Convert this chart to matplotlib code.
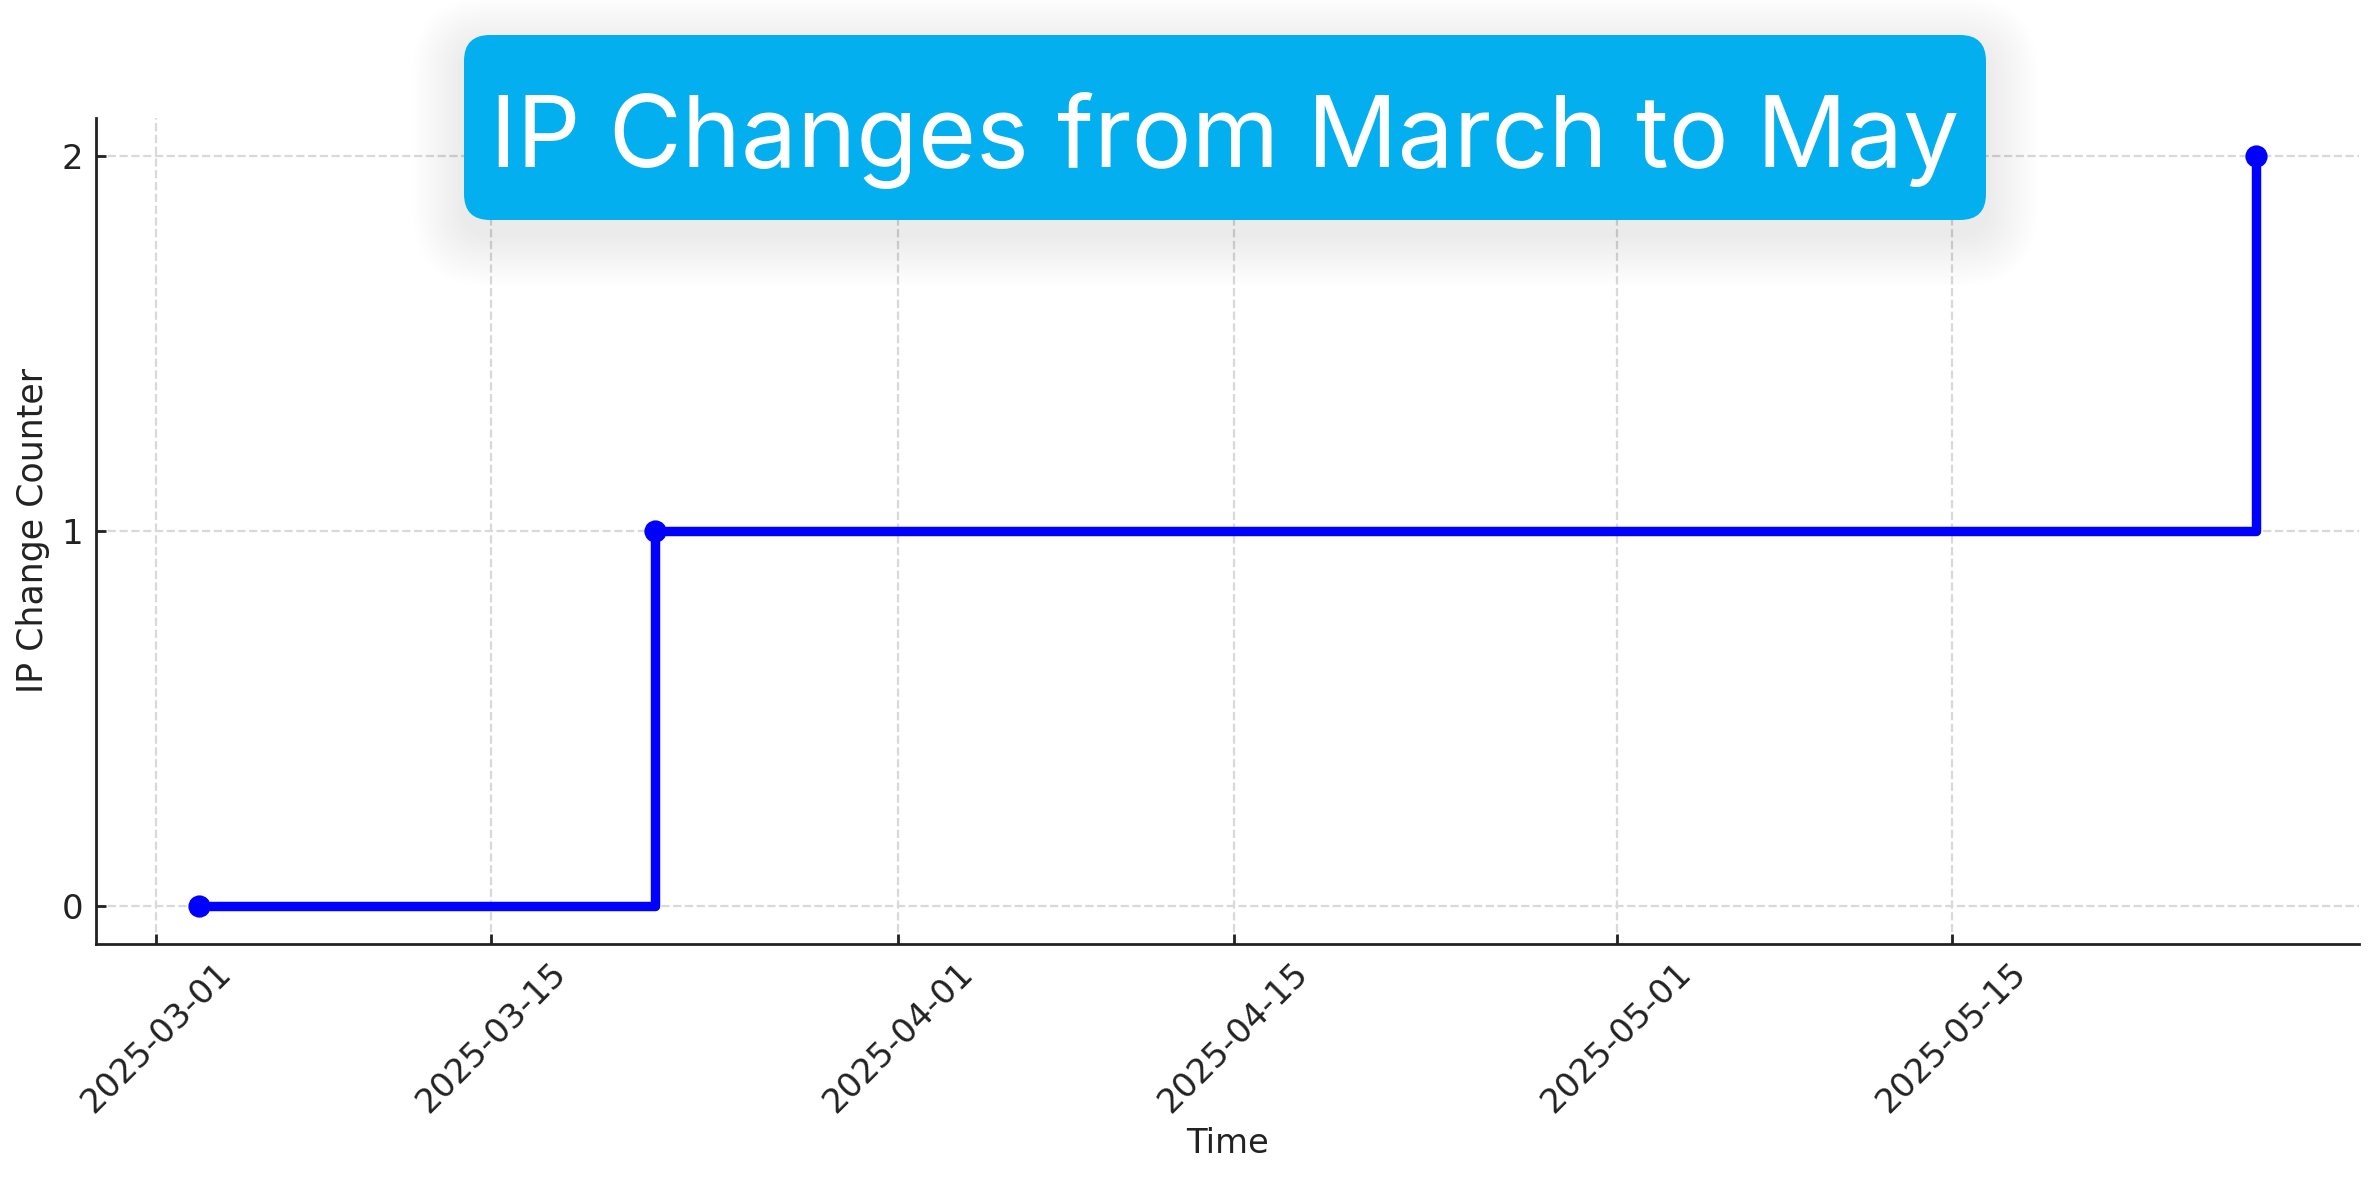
import matplotlib
matplotlib.use("Agg")
import matplotlib.pyplot as plt
import matplotlib.dates as mdates
from matplotlib.patches import FancyBboxPatch
import pandas as pd

# data
change_times = ["2025-03-02 18:30", "2025-03-21 20:00", "2025-05-27 17:00"]
change_counter = [0, 1, 2]
tick_dates = ["2025-03-01", "2025-03-15", "2025-04-01", "2025-04-15",
              "2025-05-01", "2025-05-15"]
title = "IP Changes from March to May"

times = pd.to_datetime(change_times)

plt.rcParams['font.family'] = 'DejaVu Sans'
fig = plt.figure(figsize=(11.895, 5.9), dpi=200)
ax = fig.add_axes([0.0402, 0.2003, 0.9514, 0.6997])

ax.step(times, change_counter, where='post', color='blue', lw=3.4,
        marker='o', ms=7)

ax.set_yticks(change_counter)
ax.set_xticks(pd.to_datetime(tick_dates))
ax.xaxis.set_major_formatter(mdates.DateFormatter('%Y-%m-%d'))
ax.tick_params(labelsize=12.2, colors='#222222', width=1.0, length=3.5,
               direction='in', pad=4.5)
plt.setp(ax.get_xticklabels(), rotation=45)

ax.set_xlabel("Time", fontsize=12.2, color='#222222', labelpad=3)
ax.set_ylabel("IP Change Counter", fontsize=12.5, color='#222222')

ax.grid(True, linestyle='--', color='#d9d9d9', lw=0.8)
ax.set_axisbelow(True)
for s in ['top', 'right']:
    ax.spines[s].set_visible(False)
for s in ['left', 'bottom']:
    ax.spines[s].set_linewidth(1.0)
    ax.spines[s].set_color('#222222')

# title badge with soft shadow (inches)
bx, by, bw, bh, r = 2.32, 4.80, 7.61, 0.925, 0.13
for i in range(20):
    g = 0.013 * (i + 1)
    sh = FancyBboxPatch((bx - g, by - 0.07 - g), bw + 2 * g, bh + 2 * g,
                        boxstyle=f"round,pad=0,rounding_size={r + g}",
                        transform=fig.dpi_scale_trans, facecolor='black',
                        edgecolor='none', alpha=0.005, zorder=9)
    fig.add_artist(sh)
box = FancyBboxPatch((bx, by), bw, bh,
                     boxstyle=f"round,pad=0,rounding_size={r}",
                     transform=fig.dpi_scale_trans, facecolor='#03AFEE',
                     edgecolor='none', zorder=10)
fig.add_artist(box)
fig.text((bx + bw / 2) / 11.895, 5.065 / 5.9, title, family='Inter',
         fontsize=36, color='white', ha='center', va='baseline', zorder=11)

fig.savefig("out.png", dpi=200)
